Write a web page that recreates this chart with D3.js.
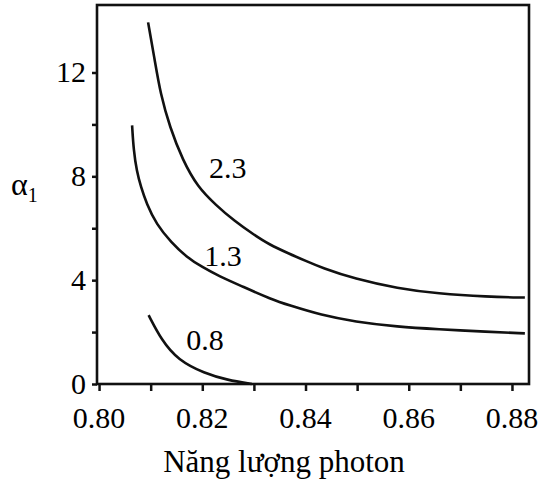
<!DOCTYPE html>
<html>
<head>
<meta charset="utf-8">
<script src="https://cdn.jsdelivr.net/npm/d3@7"></script>
</head>
<body style="margin:0">
<script>
// values
var seriesNames = ["2.3", "1.3", "0.8"];

var x23 = [0.8095, 0.8108, 0.8119, 0.8137, 0.8162, 0.8191, 0.8226, 0.8262, 0.8300, 0.8329, 0.8367, 0.8403, 0.8431, 0.8495, 0.8579, 0.8656, 0.8752, 0.8825];
var y23 = [13.93, 12.46, 11.18, 9.90, 8.62, 7.59, 6.90, 6.28, 5.75, 5.38, 5.03, 4.72, 4.48, 4.05, 3.68, 3.48, 3.36, 3.33];

var x13 = [0.8064, 0.8067, 0.8073, 0.8081, 0.8092, 0.8111, 0.8140, 0.8169, 0.8200, 0.8233, 0.8275, 0.8335, 0.8367, 0.8431, 0.8495, 0.8579, 0.8656, 0.8752, 0.8825];
var y13 = [9.96, 9.00, 8.20, 7.60, 6.95, 6.15, 5.45, 4.90, 4.50, 4.15, 3.78, 3.25, 3.04, 2.65, 2.40, 2.20, 2.11, 2.01, 1.95];

var x08 = [0.8096, 0.8121, 0.8153, 0.8204, 0.8249, 0.8296];
var y08 = [2.65, 1.69, 0.92, 0.41, 0.15, 0.00];

var xTicks = [0.80, 0.81, 0.82, 0.83, 0.84, 0.85, 0.86, 0.87, 0.88];
var xTickLabels = ["0.80", "", "0.82", "", "0.84", "", "0.86", "", "0.88"];
var yTicks = [0, 2, 4, 6, 8, 10, 12];
var yTickLabels = ["0", "", "4", "", "8", "", "12"];

var xTitle = "Năng lượng photon";

var ink = "#111";
var face = "'Times New Roman'";

var width = 549, height = 479;
var svg = d3.select("body").append("svg").attr("width", width).attr("height", height);

var x = d3.scaleLinear().domain([0.7996, 0.8833]).range([97, 529]);
var y = d3.scaleLinear().domain([0, 14.6]).range([384, 5]);

// frame
svg.append("rect")
  .attr("x", x.range()[0]).attr("y", y.range()[1])
  .attr("width", x.range()[1] - x.range()[0])
  .attr("height", y.range()[0] - y.range()[1])
  .attr("fill", "none").attr("stroke", ink).attr("stroke-width", 2.6);

// tick marks from the axis generators
var gx = svg.append("g").attr("transform", "translate(0," + y(0) + ")")
  .call(d3.axisBottom(x).tickValues(xTicks).tickSize(7).tickFormat(""));
var gy = svg.append("g").attr("transform", "translate(" + x.range()[0] + ",0)")
  .call(d3.axisLeft(y).tickValues(yTicks).tickSize(5).tickFormat(""));
[gx, gy].forEach(function(g){
  g.select(".domain").remove();
  g.selectAll(".tick text").remove();
  g.selectAll(".tick line").attr("stroke", ink).attr("stroke-width", 2.5);
});

svg.selectAll("text.xlab")
  .data(xTicks.filter(function(d, i){ return xTickLabels[i]; }))
  .enter().append("text")
    .attr("class", "xlab")
    .attr("x", function(d){ return x(d); })
    .attr("y", 428)
    .attr("text-anchor", "middle")
    .style("font-family", face)
    .attr("font-size", 30)
    .text(function(d){ return xTickLabels[xTicks.indexOf(d)]; });

svg.selectAll("text.ylab")
  .data(yTicks.filter(function(d, i){ return yTickLabels[i]; }))
  .enter().append("text")
    .attr("class", "ylab")
    .attr("x", 86)
    .attr("y", function(d){ return y(d) + 10; })
    .attr("text-anchor", "end")
    .style("font-family", face)
    .attr("font-size", 30)
    .text(function(d){ return yTickLabels[yTicks.indexOf(d)]; });

// curves
var line = d3.line()
  .x(function(d){ return x(d[0]); })
  .y(function(d){ return y(d[1]); })
  .curve(d3.curveBasis);

var curves = [d3.zip(x23, y23), d3.zip(x13, y13), d3.zip(x08, y08)];

svg.append("g").selectAll("path")
  .data(curves)
  .enter().append("path")
    .attr("d", line)
    .attr("fill", "none")
    .attr("stroke", ink)
    .attr("stroke-width", 2.6);

// curve labels (in data units)
var labelAt = [[0.8213, 7.92], [0.8204, 4.55], [0.8169, 1.30]];
svg.selectAll("text.clab")
  .data(seriesNames)
  .enter().append("text")
    .attr("class", "clab")
    .attr("x", function(d, i){ return x(labelAt[i][0]); })
    .attr("y", function(d, i){ return y(labelAt[i][1]); })
    .style("font-family", face)
    .attr("font-size", 30)
    .text(function(d){ return d; });

// axis titles
svg.append("text")
  .attr("x", 284).attr("y", 472)
  .attr("text-anchor", "middle")
  .style("font-family", face)
  .attr("font-size", 31)
  .text(xTitle);

var yt = svg.append("text").attr("x", 11).attr("y", 195)
  .style("font-family", face)
  .attr("font-size", 32);
yt.append("tspan").text("α");
yt.append("tspan").attr("font-size", 20).attr("dy", 7).text("1");
</script>
</body>
</html>
